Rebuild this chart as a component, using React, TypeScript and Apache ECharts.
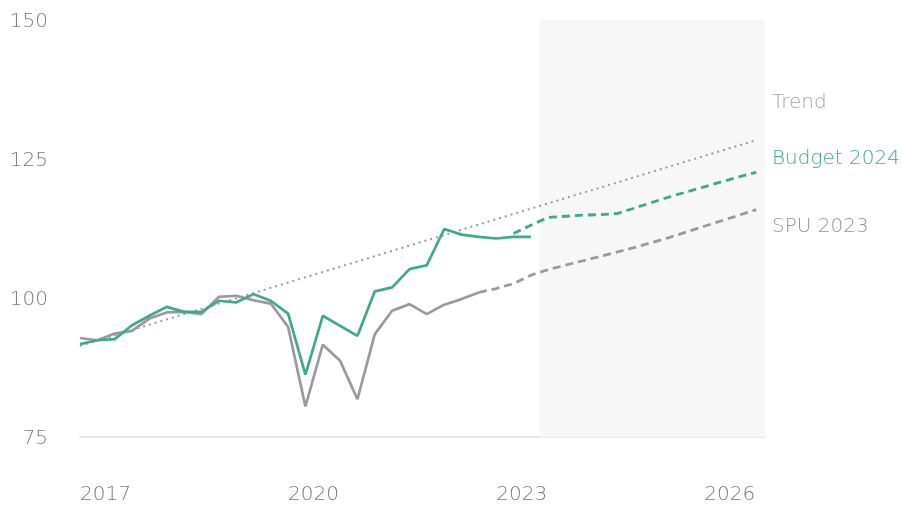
import React, { useEffect, useRef } from "react";
import * as echarts from "echarts";

const startYear = 2017;
const yTicks = [75, 100, 125, 150];
const actualGrey = [92.8, 92.4, 93.6, 94.1, 96.3, 97.4, 97.5, 97.1, 100.2, 100.4, 99.6, 99.0, 94.8, 80.5, 91.6, 88.7, 81.8, 93.5, 97.7, 98.9, 97.1, 98.8, 99.8, 101.0];
const spu2023 = [null, null, null, null, null, null, null, null, null, null, null, null, null, null, null, null, null, null, null, null, null, null, null, 101.0, 101.7, 102.6, 104.1, 105.1, 105.9, 106.7, 107.5, 108.3, 109.1, 110.0, 110.9, 111.9, 112.9, 113.9, 114.9, 115.9];
const actualTeal = [91.7, 92.4, 92.6, 95.1, 96.8, 98.4, 97.5, 97.5, 99.5, 99.2, 100.7, 99.5, 97.2, 86.2, 96.8, 95.0, 93.2, 101.2, 101.9, 105.2, 105.9, 112.4, 111.4, 111.0, 110.7, 111.0, 111.0];
const budget2024 = [null, null, null, null, null, null, null, null, null, null, null, null, null, null, null, null, null, null, null, null, null, null, null, null, null, 111.6, 113.1, 114.5, 114.7, 114.9, 115.0, 115.2, 116.2, 117.2, 118.2, 119.1, 120.0, 120.9, 121.8, 122.6];
const trendEnds: [number, number][] = [[0, 91.4], [39, 128.4]];
const forecastFrom = 26.5;
const forecastTo = 39.5;
const labels = [
  { text: "Trend", color: "#a6a6a6", top: 91 },
  { text: "Budget 2024", color: "#3fa98c", top: 147 },
  { text: "SPU 2023", color: "#959595", top: 215 },
];

const TEAL = "#3fa98c";
const GREY = "#9a9a9a";
const FONT = "DejaVu Sans";

const toPairs = (arr: (number | null)[]) => arr.map((v, i) => [i, v]);

export default function App() {
  const ref = useRef<HTMLDivElement>(null);
  useEffect(() => {
    if (!ref.current) return;
    const chart = echarts.init(ref.current, undefined, { renderer: "svg" });
    chart.setOption({
      animation: false,
      grid: { left: 80, right: 138, top: 20, bottom: 70 },
      xAxis: {
        type: "value",
        min: 0,
        max: forecastTo,
        interval: 12,
        axisLine: { show: true, lineStyle: { color: "#dddddd", width: 1.5 } },
        axisTick: { show: false },
        splitLine: { show: false },
        axisLabel: {
          showMaxLabel: false,
          align: "left",
          margin: 46,
          color: "#7a7a7a",
          fontSize: 20,
          fontFamily: FONT,
          fontWeight: 200,
          formatter: (v: number) => String(startYear + v / 4),
        },
      },
      yAxis: {
        type: "value",
        min: yTicks[0],
        max: yTicks[yTicks.length - 1],
        interval: 25,
        axisLine: { show: false },
        axisTick: { show: false },
        splitLine: { show: false },
        axisLabel: { margin: 32, color: "#7a7a7a", fontSize: 20, fontFamily: FONT, fontWeight: 200 },
      },
      series: [
        {
          type: "line",
          data: [],
          z: 1,
          silent: true,
          markArea: {
            silent: true,
            itemStyle: { color: "#f7f7f7" },
            data: [[{ xAxis: forecastFrom }, { xAxis: forecastTo }]],
          },
        },
        {
          type: "line",
          data: trendEnds,
          z: 2,
          symbol: "none",
          lineStyle: { color: GREY, width: 2, type: [2, 4] },
        },
        {
          type: "line",
          data: toPairs(spu2023),
          z: 3,
          symbol: "none",
          lineStyle: { color: GREY, width: 2.8, type: [8, 5] },
        },
        {
          type: "line",
          data: toPairs(actualGrey),
          z: 3,
          symbol: "none",
          lineStyle: { color: GREY, width: 2.7 },
        },
        {
          type: "line",
          data: toPairs(budget2024),
          z: 4,
          symbol: "none",
          lineStyle: { color: TEAL, width: 2.8, type: [8, 5] },
        },
        {
          type: "line",
          data: toPairs(actualTeal),
          z: 4,
          symbol: "none",
          lineStyle: { color: TEAL, width: 2.7 },
        },
      ],
      graphic: labels.map((l) => ({
        type: "text",
        left: 772,
        top: l.top,
        style: { text: l.text, fill: l.color, fontSize: 20, fontFamily: FONT, fontWeight: 200 },
      })),
    });
    return () => chart.dispose();
  }, []);
  return <div ref={ref} style={{ position: "fixed", left: 0, top: 0, width: 903, height: 507 }} />;
}
